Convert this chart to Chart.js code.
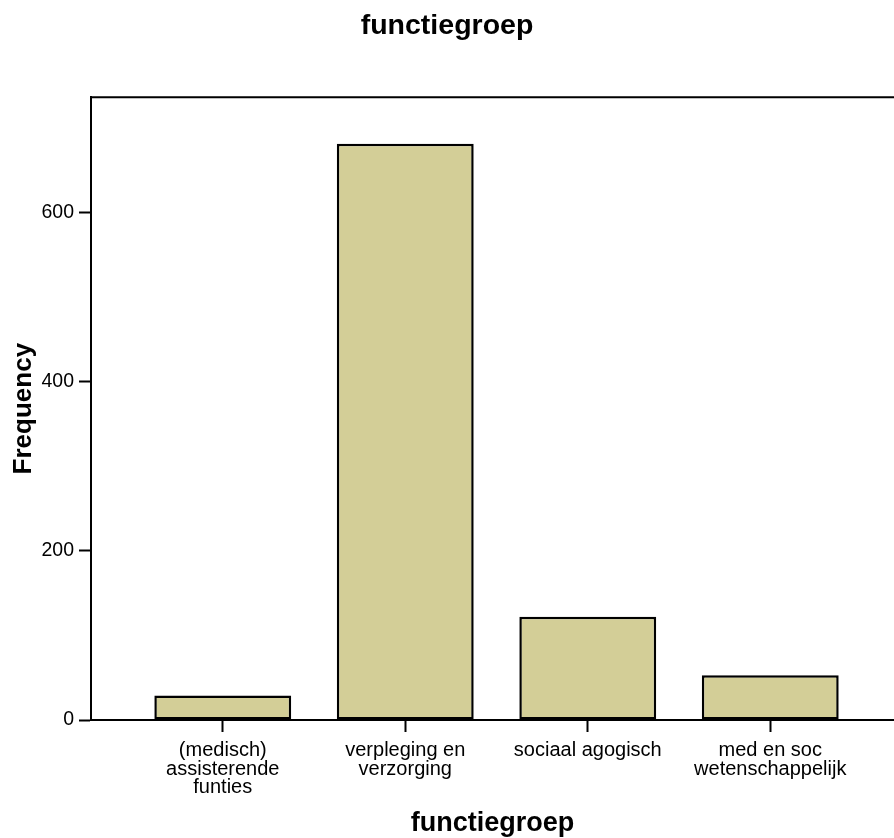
<!DOCTYPE html>
<html>
<head>
    <title>functiegroep</title>
    <script src="https://cdn.jsdelivr.net/npm/chart.js"></script>
    <style>
        body {
            margin: 0;
            background: #fff;
        }
        #chart-container {
            width: 894px;
            height: 838px;
        }
    </style>
</head>
<body>
    <div id="chart-container">
        <canvas id="freqChart" width="894" height="838"></canvas>
    </div>
    <script>
        // Data
        const categories = [
            ['(medisch)', 'assisterende', 'funties'],
            ['verpleging en', 'verzorging'],
            ['sociaal agogisch'],
            ['med en soc', 'wetenschappelijk']
        ];
        const frequencies = [29, 681, 122, 53];
        const yTicks = [0, 200, 400, 600];

        Chart.defaults.font.family = "'Liberation Sans', Arial, sans-serif";
        Chart.defaults.color = '#000';

        // top frame line of the plot area
        const topBorder = {
            id: 'topBorder',
            afterDraw(chart) {
                const { ctx, chartArea } = chart;
                ctx.save();
                ctx.strokeStyle = '#000';
                ctx.lineWidth = 2;
                ctx.beginPath();
                ctx.moveTo(chartArea.left - 1, chartArea.top);
                ctx.lineTo(chartArea.right, chartArea.top);
                ctx.stroke();
                ctx.restore();
            }
        };

        const ctx = document.getElementById('freqChart').getContext('2d');
        new Chart(ctx, {
            type: 'bar',
            data: {
                datasets: [{
                    label: 'Frequency',
                    data: frequencies.map((v, i) => ({ x: i + 1, y: v })),
                    backgroundColor: '#D3CE97',
                    borderColor: '#000',
                    borderWidth: 2.5,
                    borderSkipped: false,
                    barPercentage: 0.75,
                    categoryPercentage: 1
                }]
            },
            options: {
                responsive: false,
                animation: false,
                devicePixelRatio: 1,
                layout: { padding: 0 },
                plugins: {
                    legend: { display: false },
                    tooltip: { enabled: false },
                    title: {
                        display: true,
                        text: 'functiegroep',
                        color: '#000',
                        font: { size: 28.5, weight: 'bold' },
                        padding: { top: 9.4, bottom: 53.7 }
                    }
                },
                scales: {
                    x: {
                        type: 'linear',
                        min: 0.278,
                        max: 4.678,
                        offset: false,
                        afterBuildTicks: scale => {
                            scale.ticks = categories.map((_, i) => ({ value: i + 1 }));
                        },
                        afterFit: scale => { scale.height = 118; },
                        ticks: {
                            font: { size: 20, lineHeight: '18.5px' },
                            color: '#000',
                            padding: 9.5,
                            maxRotation: 0,
                            autoSkip: false,
                            callback: value => categories[value - 1]
                        },
                        grid: {
                            offset: false,
                            drawOnChartArea: false,
                            tickLength: 12,
                            tickColor: '#000',
                            tickWidth: 2
                        },
                        border: { color: '#000', width: 2 },
                        title: {
                            display: true,
                            text: 'functiegroep',
                            color: '#000',
                            font: { size: 27, weight: 'bold' },
                            padding: { top: 0, bottom: -1.5 }
                        }
                    },
                    y: {
                        min: 0,
                        max: 736,
                        afterBuildTicks: scale => {
                            scale.ticks = yTicks.map(v => ({ value: v }));
                        },
                        afterFit: scale => { scale.width = 91; },
                        ticks: {
                            font: { size: 19.5 },
                            color: '#000',
                            padding: 5,
                            includeBounds: false
                        },
                        grid: {
                            drawOnChartArea: false,
                            tickLength: 12,
                            tickColor: '#000',
                            tickWidth: 2
                        },
                        border: { color: '#000', width: 2 },
                        title: {
                            display: true,
                            text: 'Frequency',
                            color: '#000',
                            font: { size: 26, weight: 'bold' },
                            padding: { top: 8.5 }
                        }
                    }
                }
            },
            plugins: [topBorder]
        });
    </script>
</body>
</html>
